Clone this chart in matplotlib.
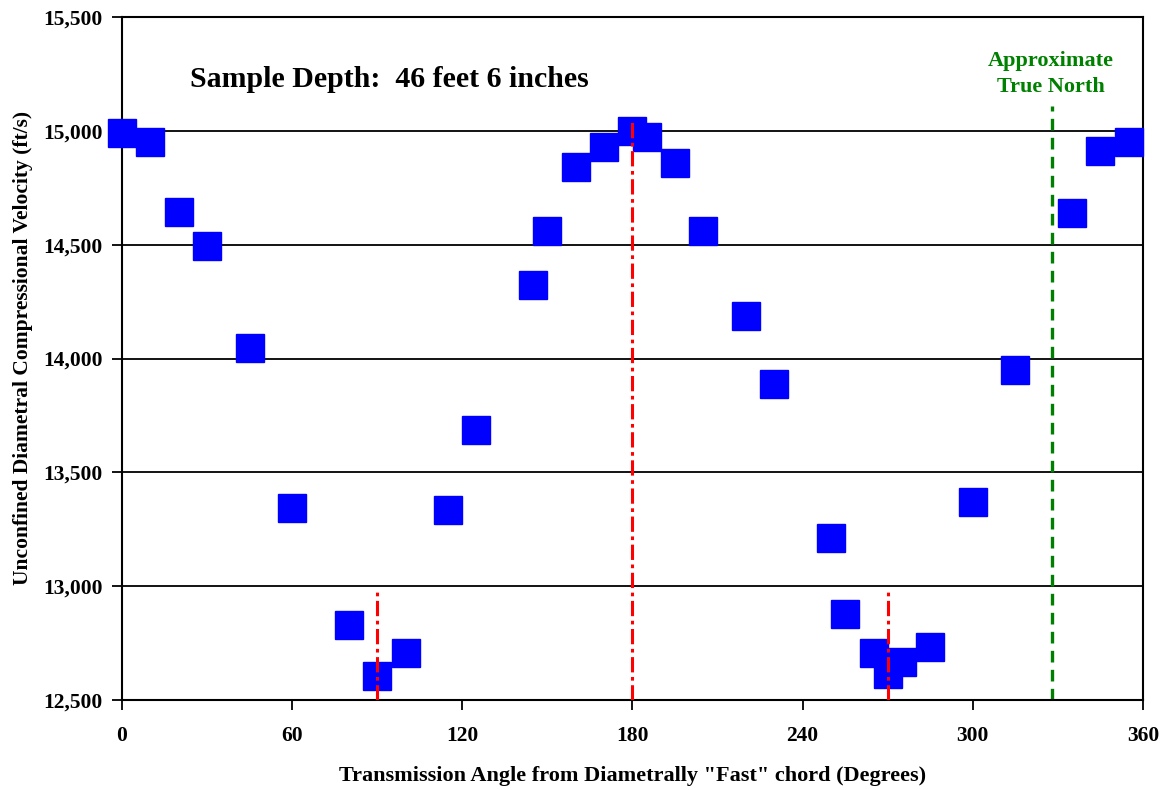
import matplotlib
matplotlib.use("Agg")
import matplotlib.pyplot as plt
from matplotlib.ticker import FuncFormatter

# transmission angle (degrees) and velocity (ft/s)
angle = [0, 10, 20, 30, 45, 60, 80, 90, 100, 115, 125, 145, 150, 160, 170,
         180, 185, 195, 205, 220, 230, 250, 255, 265, 270, 275, 285, 300,
         315, 335, 345, 355]
velocity = [14990, 14950, 14645, 14495, 14045, 13345, 12830, 12605, 12705,
            13335, 13685, 14325, 14560, 14840, 14930, 15000, 14975, 14860,
            14560, 14185, 13890, 13210, 12880, 12705, 12615, 12665, 12735,
            13370, 13950, 14640, 14910, 14950]

slow_angles = [90, 180, 270]
slow_tops = [12980, 15055, 12975]
north_angle = 328
north_top = 15110

plt.rcParams["font.family"] = ["Liberation Serif", "DejaVu Serif"]
plt.rcParams["font.weight"] = "bold"

fig = plt.figure(figsize=(11.67, 7.9), dpi=100)
ax = fig.add_axes([0.1045, 0.1139, 0.8749, 0.8646])

ax.set_xlim(0, 360)
ax.set_ylim(12500, 15500)
ax.set_xticks(range(0, 361, 60))
ax.set_yticks(range(12500, 15501, 500))
ax.yaxis.set_major_formatter(FuncFormatter(lambda v, _: f"{int(v):,}"))

for yv in range(13000, 15001, 500):
    ax.axhline(yv, color="black", linewidth=1.3, zorder=1)

for a, top in zip(slow_angles, slow_tops):
    ax.plot([a, a], [12500, top], color="red", linewidth=2.2,
            linestyle=(0, (5, 1.5, 1.2, 1.5)), zorder=4)
ax.plot([north_angle, north_angle], [12500, north_top], color="green",
        linewidth=2.4, linestyle=(0, (3.5, 2.2)), zorder=2)

ax.plot(angle, velocity, linestyle="none", marker="s", markersize=19.5,
        color="#0000ff", zorder=3, clip_on=False)

ax.text(24, 15225, "Sample Depth:  46 feet 6 inches", fontsize=21.5,
        fontweight="bold", va="center", ha="left")
ax.text(north_angle - 0.5, 15250, "Approximate\nTrue North", color="green",
        fontsize=16, fontweight="bold", ha="center", va="center",
        linespacing=1.35)

ax.set_xlabel('Transmission Angle from Diametrally "Fast" chord (Degrees)',
              fontsize=16, fontweight="bold", labelpad=14)
ax.set_ylabel("Unconfined Diametral Compressional Velocity (ft/s)",
              fontsize=15.5, fontweight="bold")
ax.yaxis.set_label_coords(-0.087, 0.516)

ax.tick_params(axis="both", labelsize=15.5, length=7, width=1.3)
ax.tick_params(axis="x", pad=12)
ax.tick_params(axis="y", pad=7)
for lbl in ax.get_xticklabels() + ax.get_yticklabels():
    lbl.set_fontweight("bold")
for sp in ax.spines.values():
    sp.set_linewidth(1.5)

fig.savefig("out.png", dpi=100)
